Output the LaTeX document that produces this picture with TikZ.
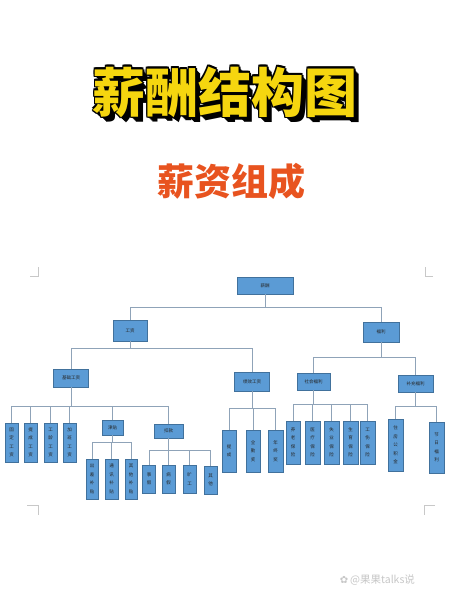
\documentclass[tikz,border=0pt]{standalone}
\usepackage{fontspec}
\newfontfamily\cjk{Noto Sans CJK SC}
\newfontfamily\dejavu{DejaVu Sans}
\definecolor{boxblue}{HTML}{5B9BD5}
\definecolor{boxline}{HTML}{41719C}
\definecolor{connc}{HTML}{8FA3B8}
\definecolor{titley}{HTML}{F5D60F}
\definecolor{subred}{HTML}{E8531F}
\definecolor{cropc}{HTML}{C8C8C8}
\begin{document}
\begin{tikzpicture}[x=1pt,y=-1pt,
  box/.style={draw=boxline,fill=boxblue,line width=0.5pt,inner sep=0pt,
    font=\cjk\fontsize{4.5}{5}\selectfont,text=black!85,align=center},
  vbox/.style={box,font=\cjk\fontsize{4.5}{8.5}\selectfont},
  conn/.style={draw=connc,line width=0.6pt},
  crop/.style={draw=cropc,line width=0.6pt},
  titletxt/.style={font=\cjk\bfseries\fontsize{53}{53}\selectfont,inner sep=0pt}]
\useasboundingbox[fill=white] (0,0) rectangle (449,600);

% ---- title ----
\foreach \d [count=\i] in {1,2,3,4,5}
  \node[titletxt,text=black] (tsh\i) at (225+\d,92+\d) {薪酬结构图};
\foreach \dx/\dy [count=\i] in {-1.5/0,1.5/0,0/-1.5,0/1.5,-1.1/-1.1,1.1/-1.1,-1.1/1.1,1.1/1.1}
  \node[titletxt,text=black] (tol\i) at (225+\dx,92+\dy) {薪酬结构图};
\node[titletxt,text=titley] (title) at (225,92) {薪酬结构图};

\node[font=\cjk\bfseries\fontsize{37}{37}\selectfont,text=subred,inner sep=0pt] (sub) at (231,181) {薪资组成};

% ---- crop marks ----
\coordinate (ca1) at (30,276); \coordinate (ca2) at (38,276); \coordinate (ca3) at (38,267);
\draw[crop] (ca1) -- (ca2) -- (ca3);
\coordinate (cb1) at (433,276); \coordinate (cb2) at (425,276); \coordinate (cb3) at (425,267);
\draw[crop] (cb1) -- (cb2) -- (cb3);
\coordinate (cc1) at (27,505); \coordinate (cc2) at (38,505); \coordinate (cc3) at (38,515);
\draw[crop] (cc1) -- (cc2) -- (cc3);
\coordinate (cd1) at (435,505); \coordinate (cd2) at (424,505); \coordinate (cd3) at (424,515);
\draw[crop] (cd1) -- (cd2) -- (cd3);

% ---- nodes ----
\node[box,minimum width=56,minimum height=17] (root) at (265,285.5) {薪酬};
\node[box,minimum width=34,minimum height=21] (gz) at (130,330.5) {工资};
\node[box,minimum width=36,minimum height=20] (fl) at (381,332) {福利};

\node[box,minimum width=35,minimum height=18] (jc) at (71,378) {基础工资};
\node[box,minimum width=35,minimum height=19] (jx) at (252,381.5) {绩效工资};
\node[box,minimum width=33,minimum height=17] (sh) at (313.5,381.5) {社会福利};
\node[box,minimum width=35,minimum height=17] (bc) at (415.5,383.5) {补充福利};

\node[vbox,minimum width=13,minimum height=39] (a1) at (11.5,442.5) {固\\定\\工\\资};
\node[vbox,minimum width=13,minimum height=39] (a2) at (30.5,442.5) {提\\成\\工\\资};
\node[vbox,minimum width=13,minimum height=39] (a3) at (50.5,442.5) {工\\龄\\工\\资};
\node[vbox,minimum width=13,minimum height=39] (a4) at (69.5,442.5) {加\\班\\工\\资};
\node[box,minimum width=21,minimum height=15] (jt) at (112.5,427.5) {津贴};
\node[box,minimum width=29,minimum height=14] (kk) at (168.5,431) {扣款};

\node[vbox,minimum width=12.5,minimum height=40] (b1) at (92,479) {出\\差\\补\\贴};
\node[vbox,minimum width=12.5,minimum height=40] (b2) at (111.5,479) {通\\讯\\补\\贴};
\node[vbox,minimum width=12.5,minimum height=40] (b3) at (131,479) {其\\他\\补\\贴};

\node[vbox,minimum width=13,minimum height=28] (c1) at (149,479) {事\\假};
\node[vbox,minimum width=13,minimum height=28] (c2) at (168.5,479) {病\\假};
\node[vbox,minimum width=13,minimum height=28] (c3) at (189.5,479) {旷\\工};
\node[vbox,minimum width=13,minimum height=28] (c4) at (210.5,480) {其\\他};

\node[vbox,minimum width=14.5,minimum height=42] (d1) at (229,451) {提\\成};
\node[vbox,minimum width=14.5,minimum height=42] (d2) at (253,451) {全\\勤\\奖};
\node[vbox,minimum width=14.5,minimum height=42] (d3) at (275.5,451) {年\\终\\奖};

\node[vbox,minimum width=14.5,minimum height=43] (e1) at (293,442.5) {养\\老\\保\\险};
\node[vbox,minimum width=14.5,minimum height=43] (e2) at (312.5,442.5) {医\\疗\\保\\险};
\node[vbox,minimum width=14.5,minimum height=43] (e3) at (331.5,442.5) {失\\业\\保\\险};
\node[vbox,minimum width=14.5,minimum height=43] (e4) at (350.5,442.5) {生\\育\\保\\险};
\node[vbox,minimum width=14.5,minimum height=43] (e5) at (367.5,442.5) {工\\伤\\保\\险};

\node[vbox,minimum width=15,minimum height=52] (f1) at (395.5,445) {住\\房\\公\\积\\金};
\node[vbox,minimum width=15,minimum height=51] (f2) at (436.5,447.5) {节\\日\\福\\利};

% ---- connector bar levels ----
\coordinate (lv1) at (0,307);
\coordinate (lv2) at (0,348);
\coordinate (lv3) at (0,357);
\coordinate (lv4) at (0,406);
\coordinate (lv5) at (0,442);
\coordinate (lv6) at (0,450);
\coordinate (lv7) at (0,408);
\coordinate (lv8) at (0,404);
\coordinate (lv9) at (0,406);

% ---- connectors ----
\foreach \c in {gz,fl} \draw[conn] (root.south) -- (root.south |- lv1) -| (\c.north);
\foreach \c in {jc,jx} \draw[conn] (gz.south) -- (gz.south |- lv2) -| (\c.north);
\foreach \c in {sh,bc} \draw[conn] (fl.south) -- (fl.south |- lv3) -| (\c.north);
\foreach \c in {a1,a2,a3,a4,jt,kk} \draw[conn] (jc.south) -- (jc.south |- lv4) -| (\c.north);
\foreach \c in {b1,b2,b3} \draw[conn] (jt.south) -- (jt.south |- lv5) -| (\c.north);
\foreach \c in {c1,c2,c3,c4} \draw[conn] (kk.south) -- (kk.south |- lv6) -| (\c.north);
\foreach \c in {d1,d2,d3} \draw[conn] (jx.south) -- (jx.south |- lv7) -| (\c.north);
\foreach \c in {e1,e2,e3,e4,e5} \draw[conn] (sh.south) -- (sh.south |- lv8) -| (\c.north);
\foreach \c in {f1,f2} \draw[conn] (bc.south) -- (bc.south |- lv9) -| (\c.north);

% ---- watermark ----
\node[font=\dejavu\fontsize{10}{10}\selectfont,text=black!22,inner sep=0pt] (wlogo) at (344,580) {✿};
\node[font=\cjk\fontsize{10.5}{10.5}\selectfont,text=black!22,inner sep=0pt,anchor=west] (wm) at (350,580) {@果果talks说};
\end{tikzpicture}
\end{document}
